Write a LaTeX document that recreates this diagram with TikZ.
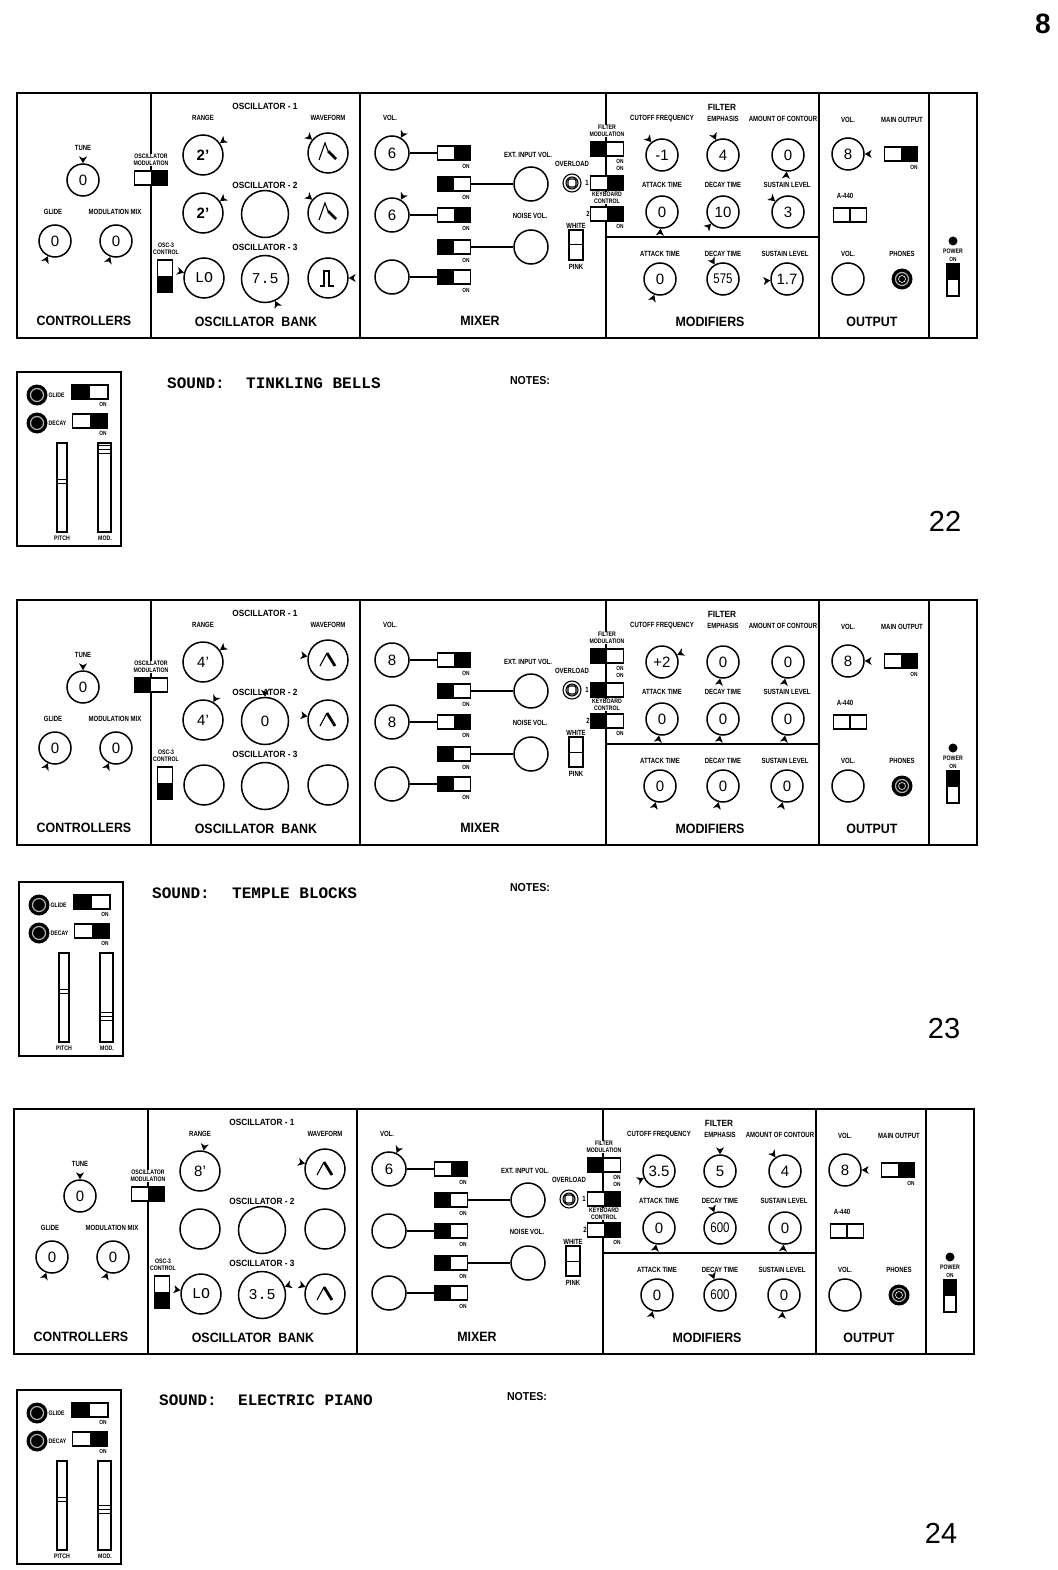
\documentclass[tikz,border=0pt]{standalone}
\usepackage{fontspec}
\setmainfont{Liberation Sans}
\newfontfamily\labf{Liberation Sans}[FakeStretch=0.8]
\newfontfamily\secf{Liberation Sans}[FakeStretch=0.92]
\newfontfamily\condf{Liberation Sans}[FakeStretch=0.82]
\newfontfamily\monof{Liberation Mono}
\usetikzlibrary{calc}

% value inside a knob
\newcommand\kval[3][kvs]{\node[#1] (#2v) at (#2) {#3};}
% pointer triangle on a knob
\newcommand\kptr[2]{\fill (#1.#2) -- ([shift={({#2+30}:8pt)}]#1.#2) -- ([shift={(#2:5pt)}]#1.#2) -- ([shift={({#2-30}:8pt)}]#1.#2) -- cycle;}
% switch states
\newcommand\swL[1]{\fill (#1.south west) rectangle (#1.north);}
\newcommand\swR[1]{\fill (#1.south) rectangle (#1.north east);}
\newcommand\swT[1]{\fill (#1.north west) rectangle (#1.east);}
\newcommand\swB[1]{\fill (#1.west) rectangle (#1.south east);}
% waveform glyphs
\newcommand\gsaw[1]{\draw[line width=1.1pt,shift={(#1.center)}] (-9,7) -- (-3,-10) -- (0,-2);
  \draw[line width=2.8pt,shift={(#1.center)}] (0,-2) -- (8,6);}
\newcommand\gtri[1]{\draw[line width=1.1pt,shift={(#1.center)}] (-8,6) -- (-1,-7);
  \draw[line width=2.8pt,shift={(#1.center)}] (-1,-7) -- (7,6);}
\newcommand\gpul[1]{\draw[line width=1.5pt,shift={(#1.center)}] (-8,8) -- (-4,8) -- (-4,-7) -- (1,-7) -- (1,8) -- (6,8);}

% common panel
\newcommand\synpanel[3]{%
\begin{scope}[shift={(#2,#3)}]
\draw[frm] (17,93) rectangle (977,338);
\draw[divl] (151,93) -- (151,338);
\draw[divl] (360,93) -- (360,338);
\draw[divl] (606,93) -- (606,338);
\draw[divl] (819,93) -- (819,338);
\draw[divl] (929,93) -- (929,338);
\draw[divl] (606,237) -- (819,237);
% controllers
\node[lab] (#1l1) at (83,148) {TUNE};
\node[knob=32pt] (#1tune) at (83,180) {};
\node[lab] (#1l2) at (53,212) {GLIDE};
\node[knob=32pt] (#1glide) at (55,241) {};
\node[lab] (#1l3) at (115,212) {MODULATION MIX};
\node[knob=32pt] (#1mmix) at (116,241) {};
\node[sec] (#1l4) at (84,321) {CONTROLLERS};
\node[tlab,fill=white] (#1l5) at (151,160) {OSCILLATOR\\MODULATION};
\node[swh] (#1om) at (151,178) {};
% oscillator bank
\node[mlab] (#1l6) at (265,106) {OSCILLATOR - 1};
\node[lab] (#1l7) at (203,118) {RANGE};
\node[lab] (#1l8) at (328,118) {WAVEFORM};
\node[knob=40pt] (#1rA) at (203,155) {};
\node[knob=40pt] (#1wA) at (328,153) {};
\node[mlab] (#1l9) at (265,185) {OSCILLATOR - 2};
\node[knob=40pt] (#1rB) at (203,213) {};
\node[knob=47pt] (#1fB) at (265,214) {};
\node[knob=40pt] (#1wB) at (328,213) {};
\node[mlab] (#1l10) at (265,247) {OSCILLATOR - 3};
\node[tlab] (#1l11) at (166,249) {OSC-3\\CONTROL};
\node[swv] (#1oc) at (165,276) {};
\node[knob=40pt] (#1rC) at (204,278) {};
\node[knob=47pt] (#1fC) at (265,279) {};
\node[knob=40pt] (#1wC) at (328,278) {};
\node[sec] (#1l12) at (256,322) {OSCILLATOR\ \ BANK};
% mixer
\node[lab] (#1l13) at (390,118) {VOL.};
\node[knob=34pt] (#1mA) at (392,153) {};
\node[swh] (#1sA) at (454,153) {};
\node[onl] (#1o1) at (466,166) {ON};
\node[swh] (#1sB) at (454,184) {};
\node[onl] (#1o2) at (466,197) {ON};
\node[knob=34pt] (#1ext) at (531,184) {};
\node[knob=34pt] (#1mB) at (392,215) {};
\node[swh] (#1sC) at (454,215) {};
\node[onl] (#1o3) at (466,228) {ON};
\node[swh] (#1sD) at (454,247) {};
\node[onl] (#1o4) at (466,260) {ON};
\node[knob=34pt] (#1noise) at (531,247) {};
\node[knob=34pt] (#1mC) at (392,277) {};
\node[swh] (#1sE) at (454,277) {};
\node[onl] (#1o5) at (466,290) {ON};
\draw[conn] (#1mA) -- (#1sA);
\draw[conn] (#1sB) -- (#1ext);
\draw[conn] (#1mB) -- (#1sC);
\draw[conn] (#1sD) -- (#1noise);
\draw[conn] (#1mC) -- (#1sE);
\node[lab] (#1l14) at (528,155) {EXT. INPUT VOL.};
\node[lab] (#1l15) at (530,216) {NOISE VOL.};
\node[lab] (#1l16) at (572,164) {OVERLOAD};
\node[circle,draw,line width=1.1pt,minimum size=18pt,inner sep=0pt] (#1ol) at (572,183) {};
\node[lab] (#1l17) at (587,183) {1};
\node[lab] (#1l18) at (576,226) {WHITE};
\node[swv,minimum width=14pt,minimum height=30pt] (#1wp) at (576,245) {};
\node[lab] (#1l19) at (576,267) {PINK};
\node[sec] (#1l20) at (480,321) {MIXER};
\node[tlab,fill=white] (#1l21) at (607,131) {FILTER\\MODULATION};
\node[swh] (#1fm) at (607,149) {};
\node[onl] (#1o6) at (620,161) {ON};
\node[onl] (#1o7) at (620,168) {ON};
\node[swh] (#1kA) at (607,183) {};
\node[tlab,fill=white] (#1l22) at (607,198) {KEYBOARD\\CONTROL};
\node[swh] (#1kB) at (607,214) {};
\node[lab] (#1l23) at (588,214) {2};
\node[onl] (#1o8) at (620,226) {ON};
% modifiers
\node[mlab] (#1l24) at (722,107) {FILTER};
\node[lab] (#1l25) at (662,119) {CUTOFF FREQUENCY};
\node[lab] (#1l26) at (723,119) {EMPHASIS};
\node[lab] (#1l27) at (783,119) {AMOUNT OF CONTOUR};
\node[knob=32pt] (#1cut) at (662,155) {};
\node[knob=32pt] (#1emp) at (723,155) {};
\node[knob=32pt] (#1amt) at (788,155) {};
\node[lab] (#1l28) at (662,185) {ATTACK TIME};
\node[lab] (#1l29) at (723,185) {DECAY TIME};
\node[lab] (#1l30) at (787,185) {SUSTAIN LEVEL};
\node[knob=32pt] (#1fa) at (662,212) {};
\node[knob=32pt] (#1fd) at (723,212) {};
\node[knob=32pt] (#1fs) at (788,212) {};
\node[lab] (#1l31) at (660,254) {ATTACK TIME};
\node[lab] (#1l32) at (723,254) {DECAY TIME};
\node[lab] (#1l33) at (785,254) {SUSTAIN LEVEL};
\node[knob=32pt] (#1la) at (660,279) {};
\node[knob=32pt] (#1ld) at (723,279) {};
\node[knob=32pt] (#1ls) at (787,279) {};
\node[sec] (#1l34) at (710,322) {MODIFIERS};
% output
\node[lab] (#1l35) at (848,120) {VOL.};
\node[lab] (#1l36) at (902,120) {MAIN OUTPUT};
\node[knob=32pt] (#1ov) at (848,154) {};
\node[swh] (#1mo) at (901,154) {};
\node[onl] (#1o9) at (914,167) {ON};
\node[lab] (#1l37) at (845,196) {A-440};
\node[swh] (#1a4) at (850,215) {};
\node[lab] (#1l38) at (848,254) {VOL.};
\node[knob=32pt] (#1pv) at (848,279) {};
\node[lab] (#1l39) at (902,254) {PHONES};
\node[jackn,minimum size=21pt] (#1ph) at (902,279) {};
\node[sec] (#1l40) at (872,322) {OUTPUT};
% power
\node[circle,fill=black,minimum size=9pt,inner sep=0pt] (#1pd) at (953,241) {};
\node[tlab] (#1l41) at (953,251) {POWER};
\node[onl] (#1o10) at (953,259) {ON};
\node[swv,minimum width=12pt,minimum height=32pt] (#1pw) at (953,280) {};
\end{scope}
\draw[line width=1.1pt] (#1ol) circle (6pt);
\draw[line width=1.1pt,rounded corners=1.5pt] ([shift={(-4pt,-4pt)}]#1ol.center) rectangle ([shift={(4pt,4pt)}]#1ol.center);
\draw[line width=1pt] (#1wp.west) -- (#1wp.east);
\draw[line width=1.3pt] (#1a4.north) -- (#1a4.south);
\draw[gray!60,line width=1.2pt] (#1ph) circle (6.5pt);
\draw[white,line width=0.6pt] (#1ph) circle (3.5pt);
}

% keyboard control box
\newcommand\kctlbox[4]{%
\begin{scope}[shift={(#2,#3)}]
\draw[line width=1.8pt] (0,0) rectangle (104,174);
\node[jackn,minimum size=21pt] (#1jg) at (20,23) {};
\node[tlab,anchor=west] (#1tg) at (31,23) {GLIDE};
\node[swh,minimum width=36pt] (#1sg) at (73,20) {};
\node[onl] (#1og) at (86,32) {ON};
\node[jackn,minimum size=21pt] (#1jd) at (20,51) {};
\node[tlab,anchor=west] (#1td) at (31,51) {DECAY};
\node[swh,minimum width=35pt] (#1sd) at (73,49) {};
\node[onl] (#1od) at (86,61) {ON};
\node[draw,line width=1.3pt,minimum width=10pt,minimum height=89pt,inner sep=0pt] (#1sp) at (45,115.5) {};
\draw[line width=1pt] (40,107) -- (50,107) (40,111) -- (50,111);
\node[draw,line width=1.3pt,minimum width=13pt,minimum height=89pt,inner sep=0pt] (#1sm) at (87.5,115.5) {};
\draw[line width=1pt] (81,#4) -- (94,#4) (81,#4+4) -- (94,#4+4) (81,#4+8) -- (94,#4+8);
\node[tlab] (#1tp) at (45,166) {PITCH};
\node[tlab] (#1tm) at (88,166) {MOD.};
\end{scope}
\swL{#1sg}\swR{#1sd}
\draw[gray!60,line width=1.2pt] (#1jg) circle (6.5pt);
\draw[gray!60,line width=1.2pt] (#1jd) circle (6.5pt);
}

\begin{document}
\begin{tikzpicture}[x=1pt,y=-1pt,
  frm/.style={line width=2.6pt},
  divl/.style={line width=2.2pt},
  knob/.style={circle,draw,line width=1.5pt,fill=white,inner sep=0pt,minimum size=#1},
  swh/.style={draw,fill=white,line width=1.3pt,minimum width=33pt,minimum height=14pt,inner sep=0pt,outer sep=0pt},
  swv/.style={draw,fill=white,line width=1.3pt,minimum width=15pt,minimum height=32pt,inner sep=0pt,outer sep=0pt},
  lab/.style={font=\labf\bfseries\fontsize{7.5}{7.5}\selectfont,inner sep=0.5pt},
  tlab/.style={font=\labf\bfseries\fontsize{6.5}{7.3}\selectfont,inner sep=0.5pt,align=center},
  onl/.style={font=\labf\bfseries\fontsize{6}{6}\selectfont,inner sep=0pt},
  mlab/.style={font=\secf\bfseries\fontsize{9}{9}\selectfont,inner sep=0.5pt},
  sec/.style={font=\secf\bfseries\fontsize{13.5}{14}\selectfont,inner sep=0pt},
  kvs/.style={font=\fontsize{15}{15}\selectfont,inner sep=0pt},
  kvb/.style={font=\bfseries\fontsize{15}{15}\selectfont,inner sep=0pt},
  kvm/.style={font=\monof\fontsize{15}{15}\selectfont,inner sep=0pt},
  kvc/.style={font=\condf\fontsize{14}{14}\selectfont,inner sep=0pt},
  conn/.style={line width=1.1pt},
  jackn/.style={circle,fill=black,inner sep=0pt},
  snd/.style={font=\monof\bfseries\fontsize{16}{16}\selectfont,anchor=west,inner sep=0pt},
  notes/.style={font=\secf\bfseries\fontsize{11.5}{12}\selectfont,inner sep=0pt},
  bignum/.style={font=\fontsize{29}{29}\selectfont,inner sep=0pt}]
\useasboundingbox (0,0) rectangle (1057,1570);
\fill[white] (0,0) rectangle (1057,1570);

\node[font=\bfseries\fontsize{28}{28}\selectfont,inner sep=0pt] (pagenum) at (1043,24) {8};

% ---------------- panel 1 : TINKLING BELLS
\synpanel{a}{0}{0}
\kval{atune}{0}\kptr{atune}{90}
\kval{aglide}{0}\kptr{aglide}{245}
\kval{ammix}{0}\kptr{ammix}{250}
\swR{aom}
\kval[kvb]{arA}{2'}\kptr{arA}{35}
\gsaw{awA}\kptr{awA}{140}
\kval[kvb]{arB}{2'}\kptr{arB}{35}
\gsaw{awB}\kptr{awB}{140}
\swB{aoc}
\kval[kvm]{arC}{LO}\kptr{arC}{165}
\kval[kvm]{afC}{7.5}\kptr{afC}{295}
\gpul{awC}\kptr{awC}{0}
\kval{amA}{6}\kptr{amA}{60}
\kval{amB}{6}\kptr{amB}{60}
\swR{asA}\swL{asB}\swR{asC}\swL{asD}\swL{asE}
\swL{afm}\swR{akA}\swR{akB}
\kval{acut}{-1}\kptr{acut}{130}
\kval{aemp}{4}\kptr{aemp}{115}
\kval{aamt}{0}\kptr{aamt}{265}
\kval{afa}{0}\kptr{afa}{265}
\kval{afd}{10}\kptr{afd}{225}
\kval{afs}{3}\kptr{afs}{140}
\kval{ala}{0}\kptr{ala}{250}
\kval[kvc]{ald}{575}\kptr{ald}{120}
\kval{als}{1.7}\kptr{als}{185}
\kval{aov}{8}\kptr{aov}{0}
\swR{amo}\swT{apw}
\kctlbox{ka}{17}{372}{73}
\node[snd] (asnd) at (167,383) {SOUND:};
\node[snd] (aname) at (246,383) {TINKLING BELLS};
\node[notes] (anotes) at (530,381) {NOTES:};
\node[bignum] (anum) at (945,521) {22};

% ---------------- panel 2 : TEMPLE BLOCKS
\synpanel{b}{0}{507}
\kval{btune}{0}\kptr{btune}{90}
\kval{bglide}{0}\kptr{bglide}{245}
\kval{bmmix}{0}\kptr{bmmix}{245}
\swL{bom}
\kval[kvs]{brA}{4'}\kptr{brA}{35}
\gtri{bwA}\kptr{bwA}{170}
\kval[kvs]{brB}{4'}\kptr{brB}{60}
\kval{bfB}{0}\kptr{bfB}{90}
\gtri{bwB}\kptr{bwB}{170}
\swB{boc}
\kval{bmA}{8}
\kval{bmB}{8}
\swR{bsA}\swL{bsB}\swR{bsC}\swL{bsD}\swL{bsE}
\swL{bfm}\swL{bkA}\swL{bkB}
\kval{bcut}{+2}\kptr{bcut}{25}
\kval{bemp}{0}\kptr{bemp}{260}
\kval{bamt}{0}\kptr{bamt}{260}
\kval{bfa}{0}\kptr{bfa}{260}
\kval{bfd}{0}\kptr{bfd}{260}
\kval{bfs}{0}\kptr{bfs}{260}
\kval{bla}{0}\kptr{bla}{255}
\kval{bld}{0}\kptr{bld}{255}
\kval{bls}{0}\kptr{bls}{255}
\kval{bov}{8}\kptr{bov}{0}
\swR{bmo}\swT{bpw}
\kctlbox{kb}{19}{882}{130}
\node[snd] (bsnd) at (152,893) {SOUND:};
\node[snd] (bname) at (232,893) {TEMPLE BLOCKS};
\node[notes] (bnotes) at (530,888) {NOTES:};
\node[bignum] (bnum) at (944,1029) {23};

% ---------------- panel 3 : ELECTRIC PIANO
\synpanel{c}{-3}{1016}
\kval{ctune}{0}\kptr{ctune}{90}
\kval{cglide}{0}\kptr{cglide}{250}
\kval{cmmix}{0}\kptr{cmmix}{250}
\swR{com}
\kval[kvs]{crA}{8'}\kptr{crA}{80}
\gtri{cwA}\kptr{cwA}{165}
\swB{coc}
\kval[kvm]{crC}{LO}\kptr{crC}{170}
\kval[kvm]{cfC}{3.5}\kptr{cfC}{20}
\gtri{cwC}\kptr{cwC}{160}
\kval{cmA}{6}\kptr{cmA}{65}
\swR{csA}\swL{csB}\swL{csC}\swL{csD}\swL{csE}
\swL{cfm}\swR{ckA}\swR{ckB}
\kval{ccut}{3.5}\kptr{ccut}{205}
\kval{cemp}{5}\kptr{cemp}{90}
\kval{camt}{4}\kptr{camt}{125}
\kval{cfa}{0}\kptr{cfa}{260}
\kval[kvc]{cfd}{600}\kptr{cfd}{110}
\kval{cfs}{0}\kptr{cfs}{265}
\kval{cla}{0}\kptr{cla}{255}
\kval[kvc]{cld}{600}\kptr{cld}{110}
\kval{cls}{0}\kptr{cls}{265}
\kval{cov}{8}\kptr{cov}{0}
\swR{cmo}\swT{cpw}
\kctlbox{kc}{17}{1390}{115}
\node[snd] (csnd) at (159,1400) {SOUND:};
\node[snd] (cname) at (238,1400) {ELECTRIC PIANO};
\node[notes] (cnotes) at (527,1397) {NOTES:};
\node[bignum] (cnum) at (941,1533) {24};
\end{tikzpicture}
\end{document}
